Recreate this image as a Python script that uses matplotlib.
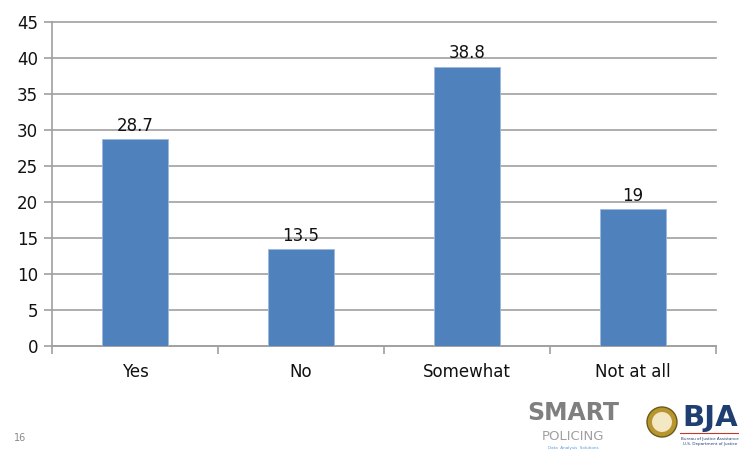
import matplotlib
matplotlib.use("Agg")
import matplotlib.pyplot as plt
from matplotlib.patches import Circle

categories = ["Yes", "No", "Somewhat", "Not at all"]
values = [28.7, 13.5, 38.8, 19]
value_labels = ["28.7", "13.5", "38.8", "19"]
y_ticks = [0, 5, 10, 15, 20, 25, 30, 35, 40, 45]

plt.rcParams["font.family"] = ["DejaVu Sans"]

fig = plt.figure(figsize=(7.39, 4.51), dpi=100)
ax = fig.add_axes([52 / 739, 1 - 346 / 451, (716 - 52) / 739, (346 - 22) / 451])

bar_color = "#4F81BD"
grid_color = "#A0A0A0"

x = list(range(len(categories)))
ax.bar(x, values, width=0.40, color=bar_color, edgecolor="#9DB9DD", linewidth=0.6, zorder=3)

for xi, v, lab in zip(x, values, value_labels):
    ax.annotate(lab, (xi, v), xytext=(0, 3), textcoords="offset points",
                ha="center", va="bottom", fontsize=12, color="#111111")

ax.set_xlim(-0.5, len(categories) - 0.5)
ax.set_ylim(0, 45)
ax.set_yticks(y_ticks)
ax.set_yticklabels([str(t) for t in y_ticks], fontsize=12, color="#111111")
ax.yaxis.grid(True, color=grid_color, linewidth=1.2, zorder=0)
for gl in ax.get_ygridlines():
    gl.set_clip_on(False)
ax.set_axisbelow(True)

ax.set_xticks(x)
ax.set_xticklabels(categories, fontsize=12, color="#111111")
ax.tick_params(axis="x", length=0, pad=12)
# category boundary tick marks along the base
ax.set_xticks([i - 0.5 for i in range(len(categories) + 1)], minor=True)
ax.tick_params(axis="x", which="minor", length=6, width=1.2, color=grid_color)
ax.tick_params(axis="y", length=6, width=1.2, color=grid_color, pad=4)

for side in ["top", "right"]:
    ax.spines[side].set_visible(False)
for side in ["left", "bottom"]:
    ax.spines[side].set_color(grid_color)
    ax.spines[side].set_linewidth(1.2)

# slide footer: page number and logos
fig.text(20 / 739, 1 - 438 / 451, "16", fontsize=7, color="#888888", ha="center", va="center")
fig.text(573 / 739, 1 - 413 / 451, "SMART", fontsize=17, fontweight="bold", color="#7F7F7F",
         ha="center", va="center")
fig.text(573 / 739, 1 - 436 / 451, "POLICING", fontsize=9.5, color="#A0A0A0",
         ha="center", va="center")
fig.text(573 / 739, 1 - 448 / 451, "Data  Analysis  Solutions", fontsize=3, color="#5B9BD5",
         ha="center", va="center")
seal = Circle((662, 451 - 422), 15, transform=None, facecolor="#B8962E", edgecolor="#6B5A1E",
              linewidth=1)
fig.patches.append(seal)
seal_in = Circle((662, 451 - 422), 10, transform=None, facecolor="#F3E7C4", edgecolor="none")
fig.patches.append(seal_in)
fig.text(710 / 739, 1 - 418 / 451, "BJA", fontsize=21, fontweight="bold", color="#1F3F73",
         ha="center", va="center")
fig.add_artist(plt.Line2D([680 / 739, 739 / 739], [1 - 433 / 451, 1 - 433 / 451],
                          color="#C0392B", linewidth=0.8))
fig.text(710 / 739, 1 - 439 / 451, "Bureau of Justice Assistance", fontsize=3, color="#1F3F73",
         ha="center", va="center")
fig.text(710 / 739, 1 - 444 / 451, "U.S. Department of Justice", fontsize=3, color="#1F3F73",
         ha="center", va="center")

fig.savefig("out.png", dpi=100)
